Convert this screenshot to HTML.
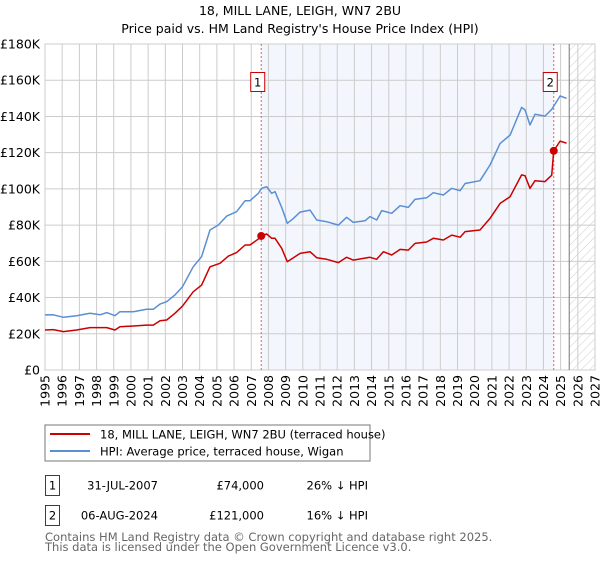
<!DOCTYPE html>
<html><head><meta charset="utf-8"><style>
body{margin:0;background:#fff;font-family:"DejaVu Sans","Liberation Sans",sans-serif;}
svg text{font-family:"DejaVu Sans","Liberation Sans",sans-serif;}
</style></head><body>
<svg id="c" width="600" height="560" xmlns="http://www.w3.org/2000/svg">
<defs><pattern id="hatch" width="6" height="6" patternUnits="userSpaceOnUse" patternTransform="rotate(45)"><line x1="0" y1="0" x2="0" y2="6" stroke="#ccc" stroke-width="1"/></pattern></defs>
<text x="300" y="15" text-anchor="middle" font-size="12.5">18, MILL LANE, LEIGH, WN7 2BU</text>
<text x="300" y="33" text-anchor="middle" font-size="12.5">Price paid vs. HM Land Registry's House Price Index (HPI)</text>
<g id="plot"></g>
<rect x="45" y="425" width="325" height="36" fill="#fff" stroke="#777"/>
<line x1="50" y1="434" x2="90" y2="434" stroke="#cc0000" stroke-width="2"/>
<text x="100" y="438.5" font-size="11.5">18, MILL LANE, LEIGH, WN7 2BU (terraced house)</text>
<line x1="50" y1="451" x2="90" y2="451" stroke="#5b8fd4" stroke-width="2"/>
<text x="100" y="455.5" font-size="11.5">HPI: Average price, terraced house, Wigan</text>
<g font-size="11.5">
<rect x="45.5" y="475.5" width="14" height="20" fill="#fff" stroke="#cc0000"/>
<text x="52.5" y="489.5" text-anchor="middle">1</text>
<text x="158" y="489.5" text-anchor="end">31-JUL-2007</text>
<text x="264" y="489.5" text-anchor="end">£74,000</text>
<text x="368" y="489.5" text-anchor="end">26% ↓ HPI</text>
</g>
<g font-size="11.5">
<rect x="45.5" y="505.5" width="14" height="20" fill="#fff" stroke="#cc0000"/>
<text x="52.5" y="519.5" text-anchor="middle">2</text>
<text x="158" y="519.5" text-anchor="end">06-AUG-2024</text>
<text x="264" y="519.5" text-anchor="end">£121,000</text>
<text x="368" y="519.5" text-anchor="end">16% ↓ HPI</text>
</g>
<text x="45" y="541" font-size="11.5" fill="#666">Contains HM Land Registry data © Crown copyright and database right 2025.</text>
<text x="45" y="551" font-size="11.5" fill="#666">This data is licensed under the Open Government Licence v3.0.</text>
</svg>
<script>
const hpiYears=[1995.0,1995.48,1996.07,1996.84,1997.62,1998.2,1998.59,1999.07,1999.36,2000.14,2000.91,2001.3,2001.69,2002.08,2002.56,2003.0,2003.62,2004.11,2004.6,2005.08,2005.57,2006.15,2006.64,2006.93,2007.41,2007.6,2007.9,2008.19,2008.38,2008.77,2009.1,2009.45,2009.84,2010.42,2010.81,2011.39,2012.07,2012.55,2012.94,2013.62,2013.91,2014.3,2014.59,2015.17,2015.66,2016.14,2016.53,2017.21,2017.59,2018.18,2018.66,2019.15,2019.44,2020.31,2020.89,2021.48,2022.06,2022.73,2022.93,2023.22,2023.51,2024.09,2024.48,2024.97,2025.35];
const hpiValues=[30.4,30.5,29.1,30,31.3,30.5,31.7,30,32.2,32.2,33.5,33.5,36.4,37.7,41.4,46,57,62.6,77.3,80,85,87.4,93.5,93.5,97.5,100.3,101.2,97.5,98.5,89.8,81,83.7,87.2,88.3,82.8,81.9,80,84.3,81.5,82.4,84.7,82.8,88,86.5,90.7,89.8,94.2,95.1,97.9,96.6,100.3,99,103,104.5,113.2,125.1,129.7,145,143.6,135.3,141.2,140.2,143.9,151.3,150];
const priceYears=[1995.0,1995.48,1996.07,1996.84,1997.62,1998.59,1999.07,1999.36,2000.14,2000.91,2001.3,2001.69,2002.08,2002.56,2003.0,2003.62,2004.11,2004.6,2005.18,2005.67,2006.15,2006.64,2006.93,2007.47,2007.58,2007.9,2008.19,2008.38,2008.77,2009.1,2009.45,2009.84,2010.42,2010.81,2011.39,2012.07,2012.55,2012.94,2013.91,2014.3,2014.69,2015.17,2015.66,2016.14,2016.53,2017.21,2017.59,2018.18,2018.66,2019.15,2019.44,2020.31,2020.89,2021.48,2022.06,2022.73,2022.93,2023.22,2023.51,2024.09,2024.38,2024.48,2024.6,2024.97,2025.35];
const priceValues=[22.1,22.3,21.2,22.1,23.4,23.4,22.1,23.9,24.3,24.8,24.8,27.2,27.6,31.3,35.3,43.2,46.9,57,58.9,62.9,64.8,69,69,72.7,74,75.1,72.7,72.7,67.2,59.8,62,64.4,65.3,62,61.1,59.3,62.2,60.7,62.2,61.1,65.3,63.5,66.6,66.2,69.9,70.7,72.7,71.8,74.5,73.3,76.4,77.3,83.7,92,95.7,107.7,107.3,100.3,104.5,104,106.7,107.5,121,126.4,125.2];
const saleYears=[2007.58,2024.6];
const saleValues=[74,121];
const saleLabels=["1","2"];
const yTicks=[0,20,40,60,80,100,120,140,160,180];
const yTickLabels=["£0","£20K","£40K","£60K","£80K","£100K","£120K","£140K","£160K","£180K"];
const xTicks=[1995,1996,1997,1998,1999,2000,2001,2002,2003,2004,2005,2006,2007,2008,2009,2010,2011,2012,2013,2014,2015,2016,2017,2018,2019,2020,2021,2022,2023,2024,2025,2026,2027];
const dataEndYear=2025.5;

const X0=45,X1=595,Y0=370,Y1=44;
const xs=y=>X0+(y-1995)/(2027-1995)*(X1-X0);
const ys=v=>Y0-v/180*(Y0-Y1);
const NS="http://www.w3.org/2000/svg";
const plot=document.getElementById('plot');
function mk(tag,attrs){const e=document.createElementNS(NS,tag);for(const k in attrs)e.setAttribute(k,attrs[k]);plot.appendChild(e);return e;}

let e=mk('rect',{x:xs(saleYears[0]),y:Y1,width:xs(saleYears[1])-xs(saleYears[0]),height:Y0-Y1,fill:'#eef3fc',opacity:0.7});


e=mk('rect',{x:xs(dataEndYear),y:Y1,width:X1-xs(dataEndYear),height:Y0-Y1,fill:'url(#hatch)'});



yTicks.forEach((t,i)=>{
  let g=mk('line',{x1:X0,x2:X1,y1:ys(t),y2:ys(t),stroke:'#ccc','stroke-width':1});
  
  
  let tx=mk('text',{x:40,y:ys(t)+4.5,'text-anchor':'end','font-size':12.5});
  tx.textContent=yTickLabels[i];
  
  
});
xTicks.forEach(t=>{
  let g=mk('line',{x1:xs(t),x2:xs(t),y1:Y1,y2:Y0,stroke:'#ccc','stroke-width':1});
  
  
  let tx=mk('text',{x:0,y:0,'text-anchor':'end','font-size':12.5,transform:`translate(${xs(t)+4.5},375) rotate(-90)`});
  tx.textContent=String(t);
  
  
});
e=mk('rect',{x:X0,y:Y1,width:X1-X0,height:Y0-Y1,fill:'none',stroke:'#ccc'});


e=mk('line',{x1:xs(dataEndYear),x2:xs(dataEndYear),y1:Y1,y2:Y0,stroke:'#777','stroke-width':1});



saleYears.forEach((sy,i)=>{
  let l=mk('line',{x1:xs(sy),x2:xs(sy),y1:Y1,y2:Y0,stroke:'#e06060','stroke-width':1,'stroke-dasharray':'2,2'});
  
  
});

function path(xa,va,color,name){
  const d=xa.map((x,i)=>(i?'L':'M')+xs(x).toFixed(1)+','+ys(va[i]).toFixed(1)).join('');
  const p=mk('path',{d:d,fill:'none',stroke:color,'stroke-width':1.5,'stroke-linejoin':'round'});
  
  
}
path(hpiYears,hpiValues,'#5b8fd4','hpi-line');
path(priceYears,priceValues,'#cc0000','price-paid-line');

saleYears.forEach((sy,i)=>{
  let c=mk('circle',{cx:xs(sy),cy:ys(saleValues[i]),r:4,fill:'#cc0000'});
  
  
  let b=mk('rect',{x:xs(sy)-10.5,y:72.5,width:14,height:19,fill:'#fff',stroke:'#cc0000'});
  
  
  let t=mk('text',{x:xs(sy)-3.5,y:86.5,'text-anchor':'middle','font-size':11.5});
  t.textContent=saleLabels[i];
  
  
});
</script>
</body></html>
